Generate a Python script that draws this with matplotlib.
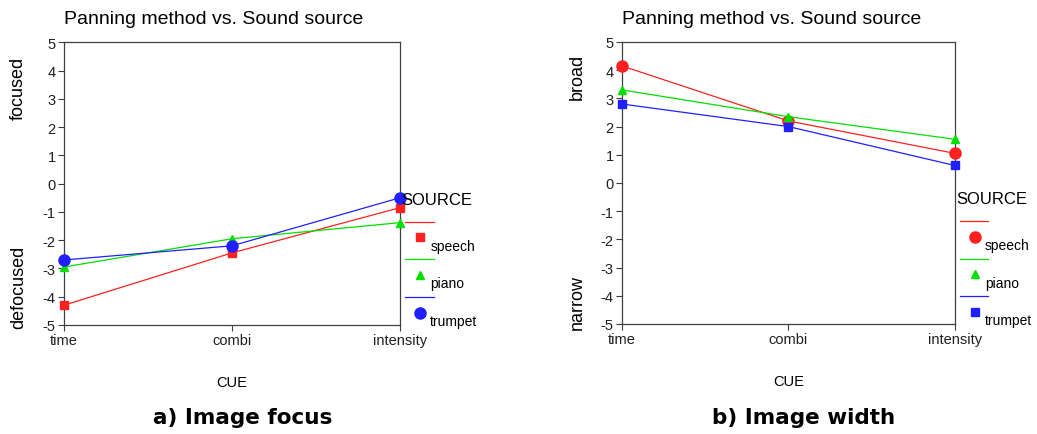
import matplotlib
matplotlib.use("Agg")
import matplotlib.pyplot as plt

plt.rcParams['font.family'] = ['Liberation Sans', 'DejaVu Sans']
plt.rcParams['axes.unicode_minus'] = False

# data - - - - - - - - - - - - - - - - - - - - - - - - - - - - - - - - - -
cues = ['time', 'combi', 'intensity']
sources = ['speech', 'piano', 'trumpet']

focus_speech = [-4.3, -2.45, -0.85]
focus_piano = [-2.95, -1.95, -1.38]
focus_trumpet = [-2.7, -2.2, -0.5]

width_speech = [4.15, 2.2, 1.05]
width_piano = [3.3, 2.35, 1.55]
width_trumpet = [2.8, 2.0, 0.62]

colors = {'speech': '#ff2020', 'piano': '#00e000', 'trumpet': '#2020ff'}
focus_markers = {'speech': 's', 'piano': '^', 'trumpet': 'o'}
width_markers = {'speech': 'o', 'piano': '^', 'trumpet': 's'}
marker_size = {'s': 6, '^': 6, 'o': 8}

fig = plt.figure(figsize=(10.37, 4.35), dpi=100)
ax1 = fig.add_axes([0.0617, 0.2506, 0.324, 0.650])
ax2 = fig.add_axes([0.5998, 0.2529, 0.321, 0.6483])


def draw_panel(ax, series, markers, top_label, bottom_label, top_y, bottom_y):
    x = range(len(cues))
    for name, vals in zip(sources, series):
        m = markers[name]
        ax.plot(x, vals, color=colors[name], lw=0.9, marker=m,
                ms=marker_size[m], mec=colors[name], clip_on=False, zorder=3)
    ax.set_xlim(0, 2)
    ax.set_ylim(-5, 5)
    ax.set_yticks(range(-5, 6))
    ax.set_xticks(list(x))
    ax.set_xticklabels(cues)
    ax.tick_params(labelsize=10.5, length=4, width=0.8, color='#404040',
                   labelcolor='#202020', pad=2)
    for s in ax.spines.values():
        s.set_color('#404040')
        s.set_linewidth(0.9)
    ax.set_title('Panning method vs. Sound source', loc='left', x=0.0,
                 fontsize=14, pad=14)
    ax.set_xlabel('CUE', fontsize=10.5, labelpad=20)
    ax.text(-0.135, top_y, top_label, transform=ax.transAxes, rotation=90,
            ha='center', va='center', fontsize=13)
    ax.text(-0.135, bottom_y, bottom_label, transform=ax.transAxes,
            rotation=90, ha='center', va='center', fontsize=13)

    # legend drawn beside the plot - - - - - - - - - - - - - - - - - - - -
    leg_top = 0.445
    ax.text(1.005, leg_top, 'SOURCE', transform=ax.transAxes, fontsize=12,
            ha='left', va='center')
    step = 0.133
    for i, name in enumerate(sources):
        y0 = leg_top - 0.08 - i * step
        ax.plot([1.015, 1.1], [y0, y0], transform=ax.transAxes,
                color=colors[name], lw=0.9, clip_on=False)
        m = markers[name]
        ax.plot([1.06], [y0 - 0.055], transform=ax.transAxes, ls='none',
                marker=m, ms=marker_size[m], color=colors[name], clip_on=False)
        ax.text(1.09, y0 - 0.085, name, transform=ax.transAxes, fontsize=10,
                ha='left', va='center')


draw_panel(ax1, [focus_speech, focus_piano, focus_trumpet], focus_markers,
           'focused', 'defocused', 0.84, 0.135)
draw_panel(ax2, [width_speech, width_piano, width_trumpet], width_markers,
           'broad', 'narrow', 0.88, 0.08)

fig.text(0.234, 0.038, 'a) Image focus', ha='center', va='center',
         fontsize=15.5, fontweight='bold', family='DejaVu Sans')
fig.text(0.775, 0.038, 'b) Image width', ha='center', va='center',
         fontsize=15.5, fontweight='bold', family='DejaVu Sans')

fig.savefig('out.png', dpi=100)
